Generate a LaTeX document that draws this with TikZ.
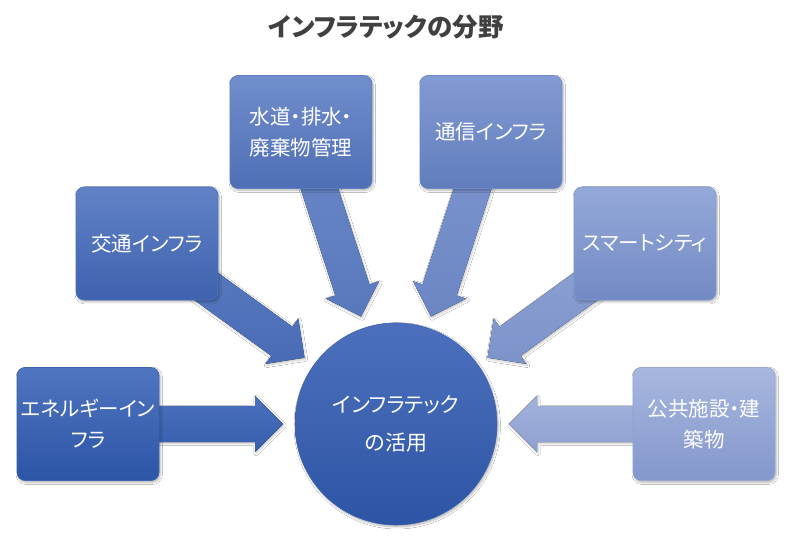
\documentclass[tikz,border=0pt]{standalone}
\usepackage{fontspec}
\setmainfont{Noto Sans CJK JP}[RawFeature=+palt]
\usetikzlibrary{calc,shadows,shadows.blur,backgrounds}
\definecolor{tA}{RGB}{80,117,192}\definecolor{bA}{RGB}{44,85,166}
\definecolor{tB}{RGB}{97,130,198}\definecolor{bB}{RGB}{62,98,174}
\definecolor{tC}{RGB}{113,142,204}\definecolor{bC}{RGB}{79,111,181}
\definecolor{tD}{RGB}{131,155,211}\definecolor{bD}{RGB}{97,125,189}
\definecolor{tE}{RGB}{149,169,217}\definecolor{bE}{RGB}{114,138,196}
\definecolor{tF}{RGB}{167,183,223}\definecolor{bF}{RGB}{132,151,204}
\definecolor{circTop}{RGB}{76,112,189}\definecolor{circBot}{RGB}{45,85,165}
\definecolor{titlegray}{RGB}{64,64,64}
\tikzset{
  boxnode/.style={rounded corners=8pt, minimum width=142pt, minimum height=113pt,
    text=white, align=center, inner sep=0pt, line width=0.6pt,
    font=\fontsize{20.5}{31}\selectfont,
    blur shadow={shadow blur steps=6, shadow xshift=1.2pt, shadow yshift=-1.8pt, shadow opacity=30}},
  shadedbox/.style={boxnode, top color=t#1, bottom color=b#1, draw=t#1!50!b#1},
  hubnode/.style={circle, minimum size=202pt, inner sep=0pt, text=white, align=center,
    font=\fontsize{21}{38}\selectfont, top color=circTop, bottom color=circBot,
    draw=circTop!50!circBot, line width=0.6pt,
    blur shadow={shadow blur steps=6, shadow xshift=1.2pt, shadow yshift=-1.8pt, shadow opacity=30}},
  arrowfill/.style={blur shadow={shadow blur steps=5, shadow xshift=1pt, shadow yshift=-1.5pt, shadow opacity=22}}
}
\newcommand\radarrow[2]{%
  \path ($(C.center)!113pt!(#1.center)$) coordinate (T#1);
  \path ($(T#1)!28pt!(#1.center)$) coordinate (H#1);
  \fill[arrowfill, top color=t#2!85!b#2, bottom color=t#2!30!b#2]
    ($(#1.center)!18pt!90:(T#1)$) -- ($(H#1)!18pt!90:(T#1)$) -- ($(H#1)!28pt!90:(T#1)$)
    -- (T#1) -- ($(H#1)!28pt!-90:(T#1)$) -- ($(H#1)!18pt!-90:(T#1)$)
    -- ($(#1.center)!18pt!-90:(T#1)$) -- cycle;
}
\begin{document}
\begin{tikzpicture}[x=1pt, y=-1pt]
\useasboundingbox (0,0) rectangle (789,540);
\node[text=titlegray, font=\fontsize{25.5}{30}\selectfont\bfseries] (title) at (386,27) {インフラテックの分野};
\node[hubnode] (C) at (396,424) {インフラテック\\の活用};
\node[shadedbox=A] (e) at (88,424) {エネルギーイン\\フラ};
\node[shadedbox=B] (t) at (147,243.5) {交通インフラ};
\node[shadedbox=C] (w) at (301,132) {水道・排水・\\廃棄物管理};
\node[shadedbox=D] (c) at (491,132) {通信インフラ};
\node[shadedbox=E] (s) at (645,243.5) {スマートシティ};
\node[shadedbox=F] (p) at (704,424) {公共施設・建\\築物};
\begin{scope}[on background layer]
\fill[white] (0,0) rectangle (789,540);
\radarrow{e}{A}
\radarrow{t}{B}
\radarrow{w}{C}
\radarrow{c}{D}
\radarrow{s}{E}
\radarrow{p}{F}
\end{scope}
\end{tikzpicture}
\end{document}
